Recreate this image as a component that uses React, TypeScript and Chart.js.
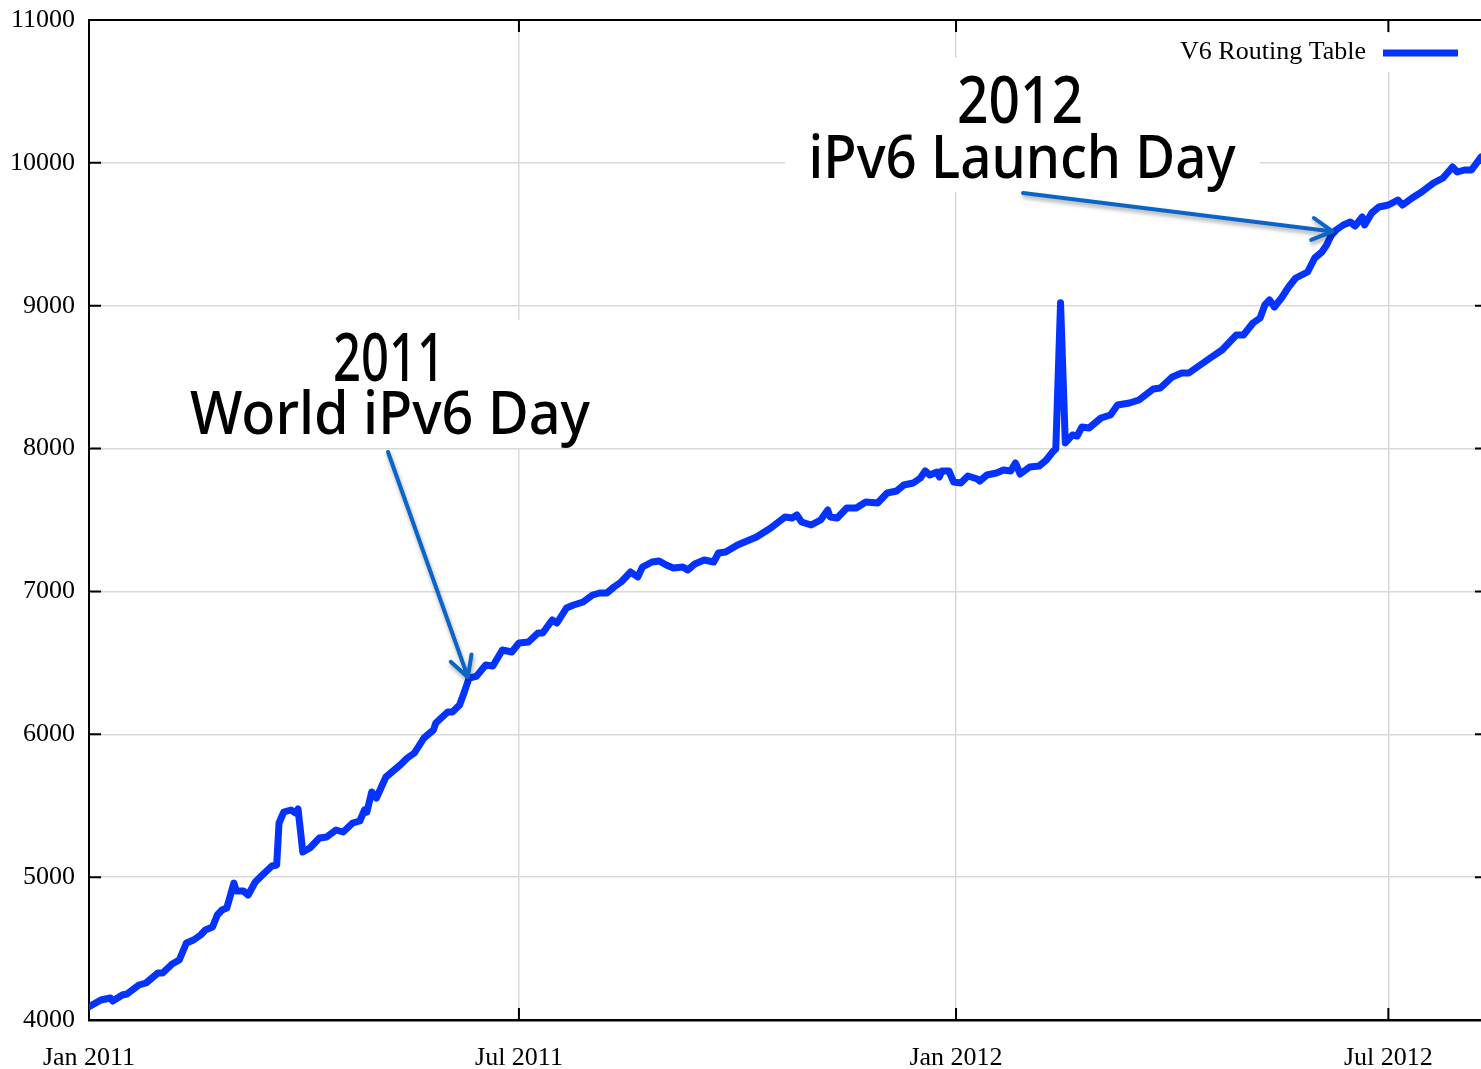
import React, { useEffect, useRef } from "react";
import { Chart, registerables } from "chart.js";

Chart.register(...registerables);

// Days since 1 Jan 2011
const dayOffsets = [
  0, 5, 9, 10, 14, 16, 21, 24, 29, 31, 35, 38, 41, 44, 47, 49, 52, 54, 56, 58,
  61, 62, 65, 67, 70, 73, 77, 79, 80, 82, 85, 87, 88, 90, 93, 97, 100, 104, 107, 111,
  114, 116, 117, 119, 121, 125, 127, 131, 134, 137, 141, 145, 146, 151, 153, 156, 158, 160, 163, 167,
  170, 174, 178, 181, 185, 189, 191, 195, 197, 201, 204, 208, 212, 215, 218, 221, 224, 228, 231, 233,
  237, 240, 243, 246, 250, 252, 255, 259, 263, 265, 268, 273, 275, 281, 287, 293, 296, 298, 300, 304,
  308, 311, 312, 315, 319, 323, 327, 332, 336, 340, 343, 347, 350, 352, 354, 357, 358, 359, 362, 364,
  367, 370, 374, 375, 378, 382, 385, 388, 390, 392, 396, 400, 403, 406, 407, 409, 411, 414, 416, 418,
  421, 426, 430, 433, 438, 442, 448, 451, 456, 460, 463, 469, 472, 477, 483, 486, 490, 493, 495, 497,
  499, 502, 505, 508, 513, 516, 519, 521, 523, 525, 528, 531, 533, 536, 537, 540, 543, 547, 551, 553,
  557, 561, 566, 570, 574, 576, 579, 582, 586,
];

const routeCounts = [
  4093, 4140, 4154, 4133, 4175, 4182, 4245, 4259, 4329, 4329, 4392, 4420, 4539, 4560, 4595, 4630, 4651, 4735, 4770, 4784,
  4959, 4903, 4903, 4875, 4966, 5015, 5078, 5085, 5379, 5456, 5470, 5449, 5477, 5176, 5204, 5274, 5281, 5330, 5316, 5379,
  5393, 5470, 5456, 5596, 5554, 5701, 5729, 5785, 5834, 5869, 5974, 6030, 6079, 6156, 6156, 6205, 6296, 6394, 6405, 6485,
  6478, 6590, 6576, 6639, 6646, 6709, 6709, 6800, 6779, 6884, 6905, 6926, 6975, 6989, 6989, 7031, 7066, 7136, 7101, 7171,
  7206, 7213, 7185, 7164, 7171, 7150, 7192, 7220, 7206, 7269, 7276, 7325, 7339, 7381, 7444, 7521, 7514, 7535, 7486, 7465,
  7500, 7570, 7521, 7514, 7584, 7584, 7626, 7619, 7689, 7703, 7745, 7759, 7794, 7843, 7815, 7836, 7801, 7843, 7843, 7766,
  7759, 7808, 7787, 7773, 7815, 7829, 7850, 7843, 7899, 7822, 7871, 7878, 7920, 7983, 7997, 9020, 8039, 8095, 8088, 8151,
  8144, 8214, 8235, 8305, 8319, 8340, 8417, 8424, 8501, 8529, 8529, 8599, 8634, 8690, 8795, 8795, 8879, 8914, 9005, 9040,
  8991, 9054, 9131, 9194, 9236, 9334, 9376, 9425, 9495, 9530, 9565, 9586, 9558, 9621, 9565, 9649, 9691, 9705, 9740, 9705,
  9754, 9796, 9859, 9894, 9971, 9936, 9950, 9950, 10041,
];

const xTickDays = [0, 181, 365, 547];
const xTickLabels = ["Jan 2011", "Jul 2011", "Jan 2012", "Jul 2012"];
const yTickValues = [4000, 5000, 6000, 7000, 8000, 9000, 10000, 11000];
const seriesLabel = "V6 Routing Table";

const noteWorldDay = ["2011", "World iPv6 Day"];
const noteLaunchDay = ["2012", "iPv6 Launch Day"];

const LINE_COLOR = "#0433ff";
const ARROW_COLOR = "#0b64c8";
const GRID_COLOR = "#d9d9d9";
const HAND_FONT = '"Noto Sans", "DejaVu Sans", sans-serif';
const SERIF = '"Liberation Serif", "Times New Roman", serif';

function fitText(ctx: CanvasRenderingContext2D, text: string, cx: number, baseline: number, size: number, width: number) {
  ctx.save();
  ctx.font = `500 ${size}px ${HAND_FONT}`;
  const w = ctx.measureText(text).width;
  const sx = width / w;
  ctx.translate(cx, baseline);
  ctx.scale(sx, 1);
  ctx.textAlign = "center";
  ctx.textBaseline = "alphabetic";
  ctx.fillStyle = "#000";
  ctx.fillText(text, 0, 0);
  ctx.restore();
}

function drawArrow(ctx: CanvasRenderingContext2D, x0: number, y0: number, x1: number, y1: number) {
  ctx.save();
  ctx.strokeStyle = ARROW_COLOR;
  ctx.lineWidth = 4;
  ctx.lineCap = "round";
  ctx.lineJoin = "round";
  ctx.shadowColor = "rgba(0,0,0,0.35)";
  ctx.shadowBlur = 4;
  ctx.shadowOffsetX = 1;
  ctx.shadowOffsetY = 3;
  const ang = Math.atan2(y1 - y0, x1 - x0);
  const hl = 23;
  const ha = 0.5;
  ctx.beginPath();
  ctx.moveTo(x0, y0);
  ctx.lineTo(x1, y1);
  ctx.moveTo(x1 - hl * Math.cos(ang - ha), y1 - hl * Math.sin(ang - ha));
  ctx.lineTo(x1, y1);
  ctx.lineTo(x1 - hl * Math.cos(ang + ha), y1 - hl * Math.sin(ang + ha));
  ctx.stroke();
  ctx.restore();
}

const decorPlugin = {
  id: "decor",
  beforeDatasetsDraw(chart: any) {
    const { ctx, chartArea } = chart;
    const xs = chart.scales.x;
    const ys = chart.scales.y;
    ctx.save();
    // white backgrounds behind annotations and legend
    ctx.fillStyle = "#fff";
    ctx.fillRect(165, 320, 447, 128);
    ctx.fillRect(785, 58, 475, 134);
    ctx.fillRect(1170, 33, 300, 39);
    // top border
    ctx.strokeStyle = "#000";
    ctx.lineWidth = 2;
    ctx.beginPath();
    ctx.moveTo(chartArea.left - 1, chartArea.top);
    ctx.lineTo(chartArea.right, chartArea.top);
    ctx.stroke();
    // inward ticks
    ctx.lineWidth = 2;
    ctx.beginPath();
    for (const v of yTickValues) {
      const y = ys.getPixelForValue(v);
      ctx.moveTo(chartArea.left, y);
      ctx.lineTo(chartArea.left + 12, y);
      ctx.moveTo(chartArea.right - 6, y);
      ctx.lineTo(chartArea.right, y);
    }
    for (const d of xTickDays) {
      const x = xs.getPixelForValue(d);
      ctx.moveTo(x, chartArea.bottom);
      ctx.lineTo(x, chartArea.bottom - 12);
      ctx.moveTo(x, chartArea.top);
      ctx.lineTo(x, chartArea.top + 12);
    }
    ctx.stroke();
    ctx.restore();
  },
  afterDraw(chart: any) {
    const { ctx } = chart;
    const xs = chart.scales.x;
    const ys = chart.scales.y;
    // legend
    ctx.save();
    ctx.font = `26px ${SERIF}`;
    ctx.fillStyle = "#000";
    ctx.textAlign = "right";
    ctx.textBaseline = "alphabetic";
    ctx.fillText(seriesLabel, 1366, 59);
    ctx.strokeStyle = LINE_COLOR;
    ctx.lineWidth = 7;
    ctx.beginPath();
    ctx.moveTo(1383, 53);
    ctx.lineTo(1458, 53);
    ctx.stroke();
    ctx.restore();

    // annotations
    fitText(ctx, noteWorldDay[0], 389, 381, 68, 112);
    fitText(ctx, noteWorldDay[1], 390, 434, 60, 400);
    fitText(ctx, noteLaunchDay[0], 1020, 123, 66, 126);
    fitText(ctx, noteLaunchDay[1], 1022, 178, 60, 427);

    drawArrow(ctx, 388, 452, xs.getPixelForValue(159.5), ys.getPixelForValue(6400));
    drawArrow(ctx, 1023, 193, xs.getPixelForValue(523.5), ys.getPixelForValue(9520));
  },
};

export default function App() {
  const canvasRef = useRef<HTMLCanvasElement | null>(null);

  useEffect(() => {
    const canvas = canvasRef.current;
    if (!canvas) return;
    const tickFont = { family: SERIF, size: 26 };
    const chart = new Chart(canvas, {
      type: "line",
      data: {
        datasets: [
          {
            label: seriesLabel,
            data: dayOffsets.map((d, i) => ({ x: d, y: routeCounts[i] })),
            borderColor: LINE_COLOR,
            borderWidth: 7,
            pointRadius: 0,
            tension: 0,
            borderJoinStyle: "round",
            borderCapStyle: "round",
            fill: false,
          },
        ],
      },
      options: {
        responsive: false,
        animation: false,
        devicePixelRatio: 1,
        layout: { padding: { top: 20, right: 0, bottom: 0, left: 0 } },
        plugins: {
          legend: { display: false },
          tooltip: { enabled: false },
        },
        scales: {
          x: {
            type: "linear",
            min: 0,
            max: 586,
            afterBuildTicks: (s: any) => {
              s.ticks = xTickDays.map((v) => ({ value: v }));
            },
            afterFit: (s: any) => {
              s.height = 49;
              s.paddingLeft = 0;
              s.paddingRight = 0;
            },
            ticks: {
              autoSkip: false,
              maxRotation: 0,
              padding: 23,
              color: "#000",
              font: tickFont,
              callback: (v: any) => {
                const i = xTickDays.indexOf(Number(v));
                return i >= 0 ? xTickLabels[i] : "";
              },
            },
            grid: { color: GRID_COLOR, lineWidth: 1.5, drawTicks: false },
            border: { display: true, color: "#000", width: 2.5 },
          },
          y: {
            type: "linear",
            min: 4000,
            max: 11000,
            afterBuildTicks: (s: any) => {
              s.ticks = yTickValues.map((v) => ({ value: v }));
            },
            afterFit: (s: any) => {
              s.width = 89;
              s.paddingTop = 0;
              s.paddingBottom = 0;
            },
            ticks: {
              padding: 14,
              color: "#000",
              font: tickFont,
              callback: (v: any) => String(v),
            },
            grid: { color: GRID_COLOR, lineWidth: 1.5, drawTicks: false },
            border: { display: true, color: "#000", width: 2 },
          },
        },
      },
      plugins: [decorPlugin],
    } as any);
    return () => chart.destroy();
  }, []);

  return (
    <div style={{ position: "fixed", left: 0, top: 0, width: 1481, height: 1069, background: "#fff" }}>
      <canvas ref={canvasRef} width={1481} height={1069} style={{ display: "block", width: 1481, height: 1069 }} />
    </div>
  );
}
